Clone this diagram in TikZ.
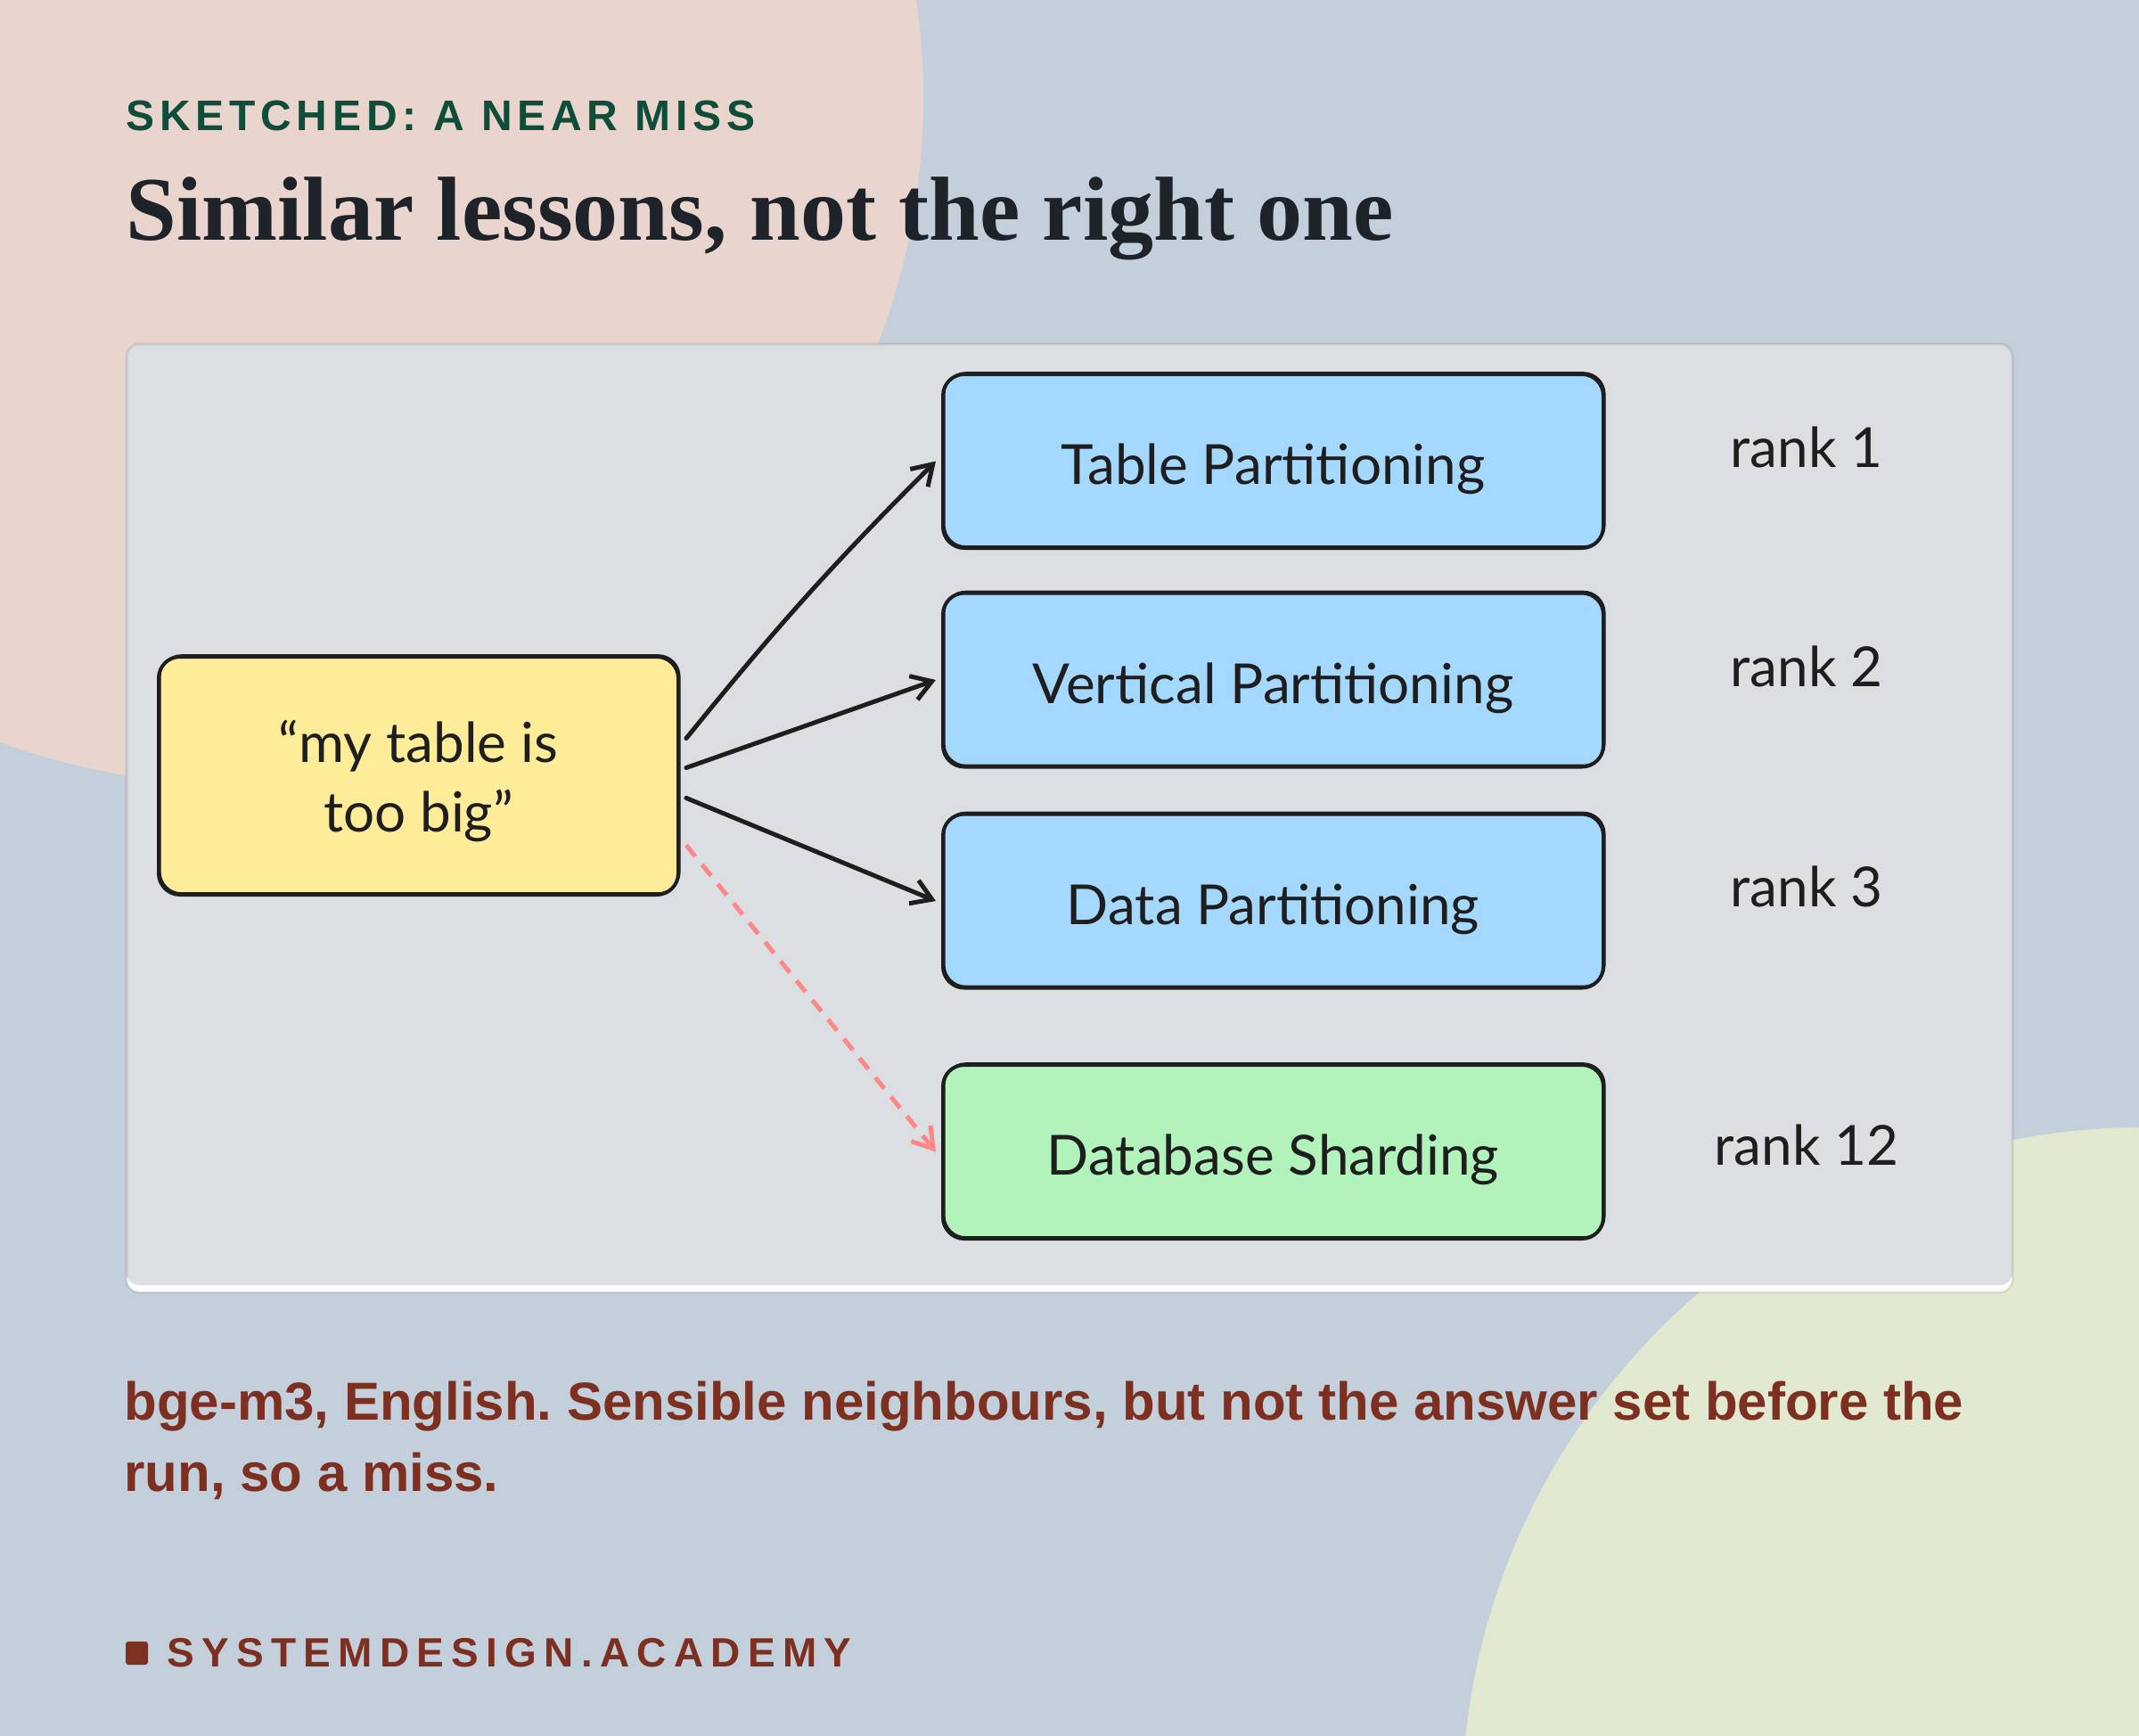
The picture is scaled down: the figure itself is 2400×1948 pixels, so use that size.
\documentclass[tikz,border=0pt]{standalone}
\usepackage{fontspec}
\setmainfont{Liberation Sans}
\newfontfamily\titlefont{Liberation Serif}
\newfontfamily\handfont{Lato}
\newfontfamily\kickerfont[LetterSpace=12]{Liberation Sans}
\newfontfamily\footfont[LetterSpace=18]{Liberation Sans}
\usetikzlibrary{positioning,arrows.meta}
\frenchspacing

\definecolor{bgblue}{HTML}{C3CFDB}
\definecolor{bgpink}{HTML}{E9D4CE}
\definecolor{bggreen}{HTML}{E1EAD0}
\definecolor{panelgray}{HTML}{DBDFE2}
\definecolor{inkgreen}{HTML}{0E4D3A}
\definecolor{inkdark}{HTML}{1E232A}
\definecolor{rust}{HTML}{7E3020}
\definecolor{pen}{HTML}{1E1E1E}
\definecolor{boxblue}{HTML}{A5D8FF}
\definecolor{boxgreen}{HTML}{B2F2BB}
\definecolor{boxyellow}{HTML}{FFEC99}
\definecolor{missred}{HTML}{FF8787}

\begin{document}
\begin{tikzpicture}[x=0.5pt,y=-0.5pt,
  sketchbox/.style={draw=pen, line width=2pt, rounded corners=12pt,
    minimum width=370.5pt, minimum height=97.5pt, inner sep=0pt,
    text=pen, font=\handfont\fontsize{31}{39}\selectfont,
    postaction={draw=pen, line width=1pt, transform canvas={shift={(0.8pt,0.9pt)}}}},
  onelabel/.style={text height=26pt, text depth=0pt},
  ranklabel/.style={text=pen, inner sep=0pt, font=\handfont\fontsize{31}{39}\selectfont},
  link/.style={draw=pen, line width=2.5pt, line cap=round,
    -{Straight Barb[length=11pt,width=14pt,line width=2.5pt]}},
  miss/.style={draw=missred, line width=2.5pt, dash pattern=on 8pt off 6pt,
    -{Straight Barb[length=11pt,width=14pt,line width=2.5pt]}}]
  \useasboundingbox (0,0) rectangle (2400,1948);

  % Background
  \fill[bgblue] (0,0) rectangle (2400,1948);
  \begin{scope}
    \clip (0,0) rectangle (2400,1948);
    \fill[bgpink] (266,110) circle[radius=385pt];
    \fill[bggreen] (2406,2031) circle[radius=383pt];
  \end{scope}

  % Heading
  \node[anchor=base west, inner sep=0pt, text=inkgreen,
    font=\kickerfont\bfseries\fontsize{24}{28}\selectfont] (kicker) at (141,147) {SKETCHED: A NEAR MISS};
  \node[anchor=base west, inner sep=0pt, text=inkdark,
    font=\titlefont\bfseries\fontsize{51}{60}\selectfont] (title) at (141,270) {Similar lessons, not the right one};

  % Panel
  \fill[white, rounded corners=7pt] (142,386) rectangle (2258,1450);
  \fill[panelgray, rounded corners=7pt] (142,386) rectangle (2258,1442);
  \draw[black, opacity=0.09, line width=1.5pt, rounded corners=7pt] (142,386) rectangle (2258,1450);

  % Query
  \node[sketchbox, fill=boxyellow, minimum width=291.5pt, minimum height=133.5pt,
    align=center, text height=63pt, text depth=0pt] (query) at (469.5,870.5) {“my table is\\too big”};

  % Retrieved lessons
  \foreach \n/\y/\t in {tp/517.5/Table Partitioning, vp/763/Vertical Partitioning, dp/1011/Data Partitioning}
    \node[sketchbox, onelabel, fill=boxblue] (\n) at (1428.5,\y) {\t};
  \node[sketchbox, onelabel, fill=boxgreen] (ds) at (1428.5,1292.5) {Database Sharding};

  % Ranks
  \foreach \n/\y/\r in {r1/502/1, r2/748/2, r3/995/3, r12/1285/12}
    \node[ranklabel] (\n) at (2027,\y) {rank \r};

  % Arrows
  \draw[link] ([xshift=3.5pt,yshift=21pt]query.east) to[bend left=3] ([xshift=-3pt]tp.west);
  \draw[link] ([xshift=3.5pt,yshift=4.5pt]query.east) -- ([xshift=-3pt]vp.west);
  \draw[link] ([xshift=3.5pt,yshift=-12.5pt]query.east) -- ([xshift=-3pt]dp.west);
  \draw[miss] ([xshift=3.5pt,yshift=-39pt]query.east) -- ([xshift=-3pt]ds.west);

  % Caption
  \node[anchor=north west, inner sep=0pt, text=rust, align=left,
    font=\bfseries\fontsize{30}{40}\selectfont] (caption) at (139,1550)
    {bge-m3, English. Sensible neighbours, but not the answer set before the\\run, so a miss.};

  % Footer
  \fill[rust, rounded corners=1.5pt] (141,1842) rectangle (166,1868);
  \node[anchor=base west, inner sep=0pt, text=rust,
    font=\footfont\bfseries\fontsize{23}{28}\selectfont] (footer) at (187,1870) {SYSTEMDESIGN.ACADEMY};
\end{tikzpicture}
\end{document}
